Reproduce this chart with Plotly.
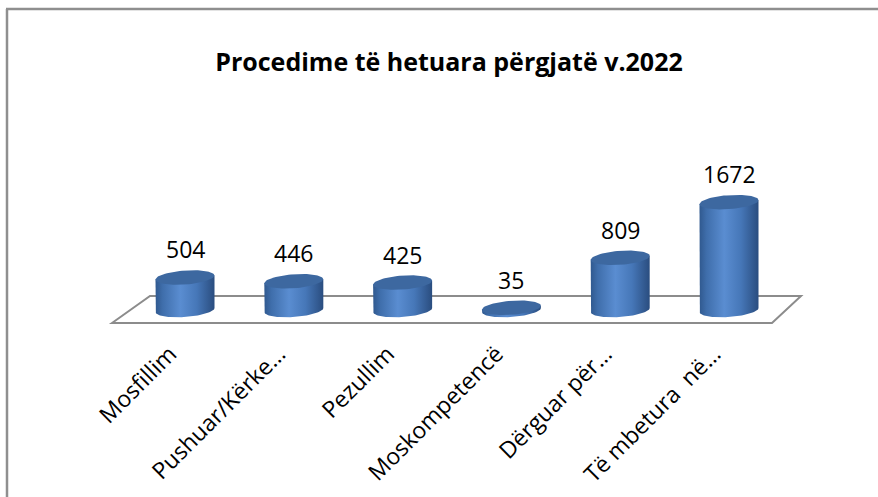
import numpy as np
import plotly.graph_objects as go

categories = ["Mosfillim", "Pushuar/Kërke…", "Pezullim", "Moskompetencë", "Dërguar për…", "Të mbetura  në…"]
values = [504, 446, 425, 35, 809, 1672]
title_text = "<b>Procedime të hetuara përgjatë v.2022</b>"

W, H = 878, 497
X0_PX, DX_PX = 185, 108.8      # pixel of first category centre, spacing
Y0_PX, PX_PER_UNIT = 310, 0.0645
AXIS_PX = 337

xr = [(0 - X0_PX) / DX_PX, (W - X0_PX) / DX_PX]
yr = [-(AXIS_PX - Y0_PX) / PX_PER_UNIT, Y0_PX / PX_PER_UNIT]

half_w = 29.5 / DX_PX
ry = 7.0 / PX_PER_UNIT
shear = 2.0 / PX_PER_UNIT

body_scale = [[0, "#30598f"], [0.12, "#3f6eab"], [0.42, "#5a8dd1"], [0.7, "#4677b8"], [1, "#2a4d7f"]]
top_color = "#3d68a0"
FONT = "Open Sans"

fig = go.Figure()
t_front = np.linspace(np.pi, 2 * np.pi, 40)
t_full = np.linspace(0, 2 * np.pi, 80)
for i, v in enumerate(values):
    c = i
    bx = [c - half_w, c - half_w] + list(c + half_w * np.cos(t_front)) + [c + half_w]
    by = [v - shear, -shear] + list(ry * np.sin(t_front) + shear * np.cos(t_front)) + [v + shear]
    fig.add_trace(go.Scatter(x=bx, y=by, mode="lines", fill="toself", line=dict(width=0),
                             fillgradient=dict(type="horizontal", colorscale=body_scale),
                             hoverinfo="skip", showlegend=False))
    tx = c + half_w * np.cos(t_full)
    ty = v + ry * np.sin(t_full) + shear * np.cos(t_full)
    fig.add_trace(go.Scatter(x=tx, y=ty, mode="lines", fill="toself", line=dict(width=0),
                             fillcolor=top_color, hoverinfo="skip", showlegend=False))
    fig.add_annotation(x=c, y=v, text=str(v), showarrow=False, yshift=28, yanchor="middle",
                       font=dict(family=FONT, size=23, color="black"))

def P(px, py):
    return px / W, 1 - py / H

floor = [P(112, 323), P(150, 296), P(801, 296), P(772, 323)]
path = "M " + " L ".join(f"{a},{b}" for a, b in floor) + " Z"
shapes = [
    dict(type="path", path=path, xref="paper", yref="paper", layer="below",
         line=dict(color="#8c8c8c", width=2)),
    dict(type="line", xref="paper", yref="paper", x0=P(6, 9)[0], y0=P(6, 9)[1], x1=1, y1=P(6, 9)[1],
         line=dict(color="#8f8f8f", width=2.5)),
    dict(type="line", xref="paper", yref="paper", x0=P(7, 9)[0], y0=P(7, 9)[1], x1=P(7, 497)[0], y1=0,
         line=dict(color="#8f8f8f", width=2.5)),
]

fig.update_layout(
    width=W, height=H, margin=dict(l=0, r=0, t=0, b=0),
    paper_bgcolor="white", plot_bgcolor="rgba(0,0,0,0)",
    title=dict(text=title_text, x=449 / W, xanchor="center", y=1 - 62 / H, yanchor="middle",
               font=dict(family=FONT, size=25, color="black")),
    shapes=shapes,
    xaxis=dict(range=xr, tickvals=list(range(len(categories))), ticktext=categories,
               tickangle=-45, showgrid=False, zeroline=False, showline=False, ticks="",
               ticklabelshift=-15, ticklabelstandoff=-2,
               tickfont=dict(family=FONT, size=23, color="black"), fixedrange=True),
    yaxis=dict(range=yr, domain=[(H - AXIS_PX) / H, 1], visible=False, fixedrange=True),
)

fig.write_html("out.html", config={"displayModeBar": False},
               post_script="document.body.style.margin='0';document.body.style.overflow='hidden';")
